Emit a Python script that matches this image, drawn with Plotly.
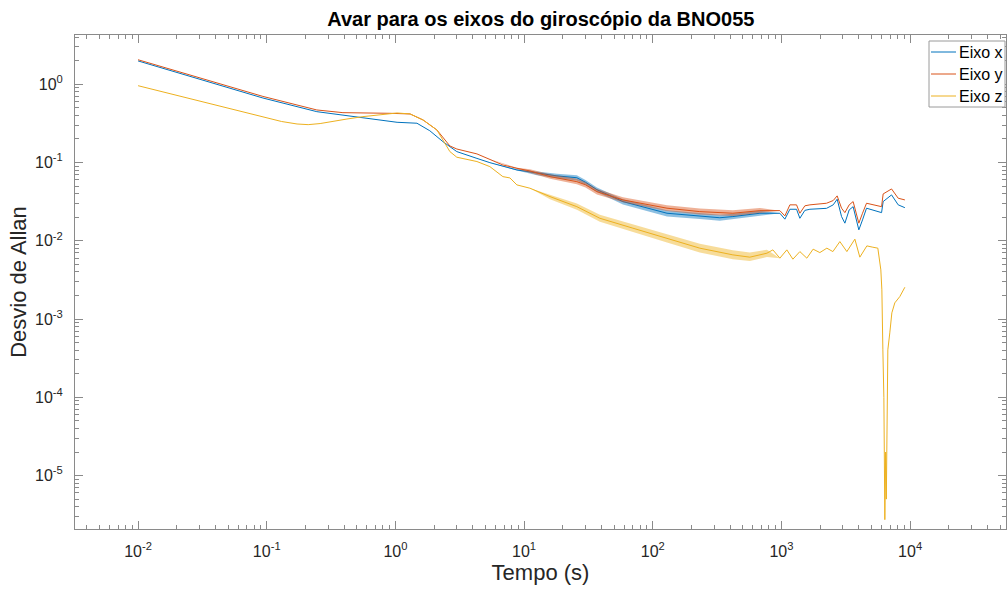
import plotly.graph_objects as go

# Allan deviation of the BNO055 gyroscope axes (tau in seconds)
tau_x = [0.01, 0.0934, 0.245, 0.559, 0.906, 1.03, 1.47, 1.85, 2.34, 3.0, 4.3, 5.42,
         8.79, 12.6, 18.0, 25.7, 30.0, 36.8, 58.6, 129, 232, 332, 419, 680, 813,
         972, 1063, 1163, 1310, 1390, 1521, 1663, 2240, 2524, 2710, 2931, 3111,
         3360, 3606, 3833, 3993, 4266, 4583, 5998, 6170, 7173, 8077, 9100]
dev_x = [1.99, 0.668, 0.447, 0.374, 0.340, 0.327, 0.318, 0.255, 0.185, 0.138, 0.113, 0.0997,
         0.0804, 0.0730, 0.0675, 0.0640, 0.0560, 0.0450, 0.0317, 0.0225, 0.0208, 0.0197, 0.0204, 0.0225, 0.0225,
         0.0225, 0.0189, 0.0253, 0.0253, 0.0194, 0.0245, 0.0253, 0.0260, 0.0288, 0.0340, 0.0204, 0.0168,
         0.0248, 0.0273, 0.0185, 0.0138, 0.0185, 0.0261, 0.0229, 0.0317, 0.0386, 0.0288, 0.0265]

tau_y = [0.01, 0.0934, 0.245, 0.391, 0.906, 1.03, 1.30, 1.64, 2.10, 2.65, 3.0, 4.3,
         5.42, 6.84, 8.79, 11.1, 15.9, 25.7, 30.0, 36.8, 58.6, 129, 232, 419, 680,
         972, 1063, 1163, 1310, 1390, 1521, 1663, 2240, 2524, 2710, 2931, 3111,
         3360, 3606, 3833, 3993, 4266, 4583, 5998, 6170, 7173, 8077, 9100]
dev_y = [2.06, 0.700, 0.470, 0.434, 0.426, 0.426, 0.418, 0.350, 0.261, 0.163, 0.149, 0.129,
         0.110, 0.0931, 0.0845, 0.0781, 0.0661, 0.0570, 0.0520, 0.0425, 0.0333, 0.0261, 0.0236, 0.0225, 0.0243,
         0.0243, 0.0208, 0.0288, 0.0288, 0.0225, 0.0280, 0.0288, 0.0302, 0.0327, 0.0375, 0.0261, 0.0229,
         0.0288, 0.0317, 0.0225, 0.0168, 0.0225, 0.0302, 0.0273, 0.0397, 0.0460, 0.0350, 0.0333]

tau_z = [0.01, 0.0934, 0.13, 0.172, 0.21, 0.26, 0.310, 0.42, 0.559, 0.75, 0.906, 1.03,
         1.30, 1.64, 2.10, 2.65, 3.0, 4.3, 5.42, 6.84, 7.76, 8.79, 11.1, 15.9,
         25.7, 38.8, 70.0, 129, 232, 419, 568, 771, 858, 972, 1101, 1227,
         1390, 1575, 1762, 1987, 2253, 2510, 2844, 3223, 3719, 4066, 4610, 5130,
         5611, 5920, 6030, 6140, 6250, 6360, 6450, 6530, 6590, 6650, 6710, 6950,
         7210, 7600, 8320, 9100]
dev_z = [0.960, 0.386, 0.335, 0.311, 0.305, 0.315, 0.333, 0.360, 0.386, 0.410, 0.426, 0.430,
         0.418, 0.350, 0.261, 0.138, 0.117, 0.103, 0.0887, 0.0661, 0.0636, 0.0518, 0.0470, 0.0367,
         0.0273, 0.0194, 0.0145, 0.0108, 0.00805, 0.00661, 0.00618, 0.00694, 0.00766, 0.00600, 0.00766, 0.00582,
         0.00728, 0.00600, 0.00782, 0.00707, 0.00805, 0.00728, 0.00977, 0.00728, 0.0105, 0.00618, 0.00861, 0.00828,
         0.00805, 0.00425, 0.00236, 0.000404, 0.0001, 2.73e-6, 2.0e-5, 5.0e-6, 3.5e-5, 0.0002, 0.000404, 0.000666,
         0.00120, 0.00161, 0.00194, 0.00255]

# spread of the noisy estimates in the mid range of tau
band_tau_x = [5.42, 8.79, 12.6, 18.0, 25.7, 30.0, 36.8, 58.6, 129, 232, 332, 419, 680, 972]
band_hi_x = [0.0997, 0.082, 0.077, 0.072, 0.069, 0.060, 0.048, 0.034, 0.0245, 0.0228, 0.0215, 0.0222, 0.0242, 0.0225]
band_lo_x = [0.0997, 0.079, 0.069, 0.063, 0.059, 0.052, 0.042, 0.029, 0.0205, 0.0190, 0.0180, 0.0187, 0.0208, 0.0225]

band_tau_y = [5.42, 8.79, 11.1, 15.9, 25.7, 30.0, 36.8, 58.6, 129, 232, 419, 680, 972]
band_hi_y = [0.110, 0.086, 0.082, 0.071, 0.062, 0.056, 0.046, 0.036, 0.0285, 0.0258, 0.0245, 0.0262, 0.0243]
band_lo_y = [0.110, 0.083, 0.075, 0.062, 0.053, 0.048, 0.039, 0.031, 0.0240, 0.0217, 0.0207, 0.0225, 0.0243]

band_tau_z = [11.1, 15.9, 25.7, 38.8, 70.0, 129, 232, 419, 568, 771, 972]
band_hi_z = [0.0470, 0.039, 0.030, 0.0215, 0.0163, 0.0123, 0.0092, 0.0076, 0.0071, 0.0077, 0.0060]
band_lo_z = [0.0470, 0.034, 0.025, 0.0175, 0.0129, 0.0095, 0.0071, 0.0058, 0.0055, 0.0062, 0.0060]

x_exps = [-2, -1, 0, 1, 2, 3, 4]
y_exps = [-5, -4, -3, -2, -1, 0]

FONT = "Arial, Liberation Sans, Helvetica, sans-serif"
AXIS_GRAY = "#8a8a8a"
TEXT = "#262626"

# plot area in pixels (figure is 1008 x 590)
PLOT_L, PLOT_R, PLOT_T, PLOT_B = 75, 1006, 35, 529


def px_x(px):
    return (px - PLOT_L) / (PLOT_R - PLOT_L)


def px_y(py):
    return 1 - (py - PLOT_T) / (PLOT_B - PLOT_T)


def minor_vals(lo, hi):
    return [m * 10.0 ** e for e in range(lo, hi + 1) for m in range(2, 10)]


fig = go.Figure()
series = [
    ("Eixo x", tau_x, dev_x, band_tau_x, band_hi_x, band_lo_x, "#0072BD", "rgba(0,114,189,0.45)"),
    ("Eixo y", tau_y, dev_y, band_tau_y, band_hi_y, band_lo_y, "#D95319", "rgba(217,83,25,0.45)"),
    ("Eixo z", tau_z, dev_z, band_tau_z, band_hi_z, band_lo_z, "#EDB120", "rgba(237,177,32,0.45)"),
]
for name, t, d, bt, bhi, blo, color, fill in series:
    fig.add_trace(go.Scatter(x=bt + bt[::-1], y=bhi + blo[::-1], mode="lines",
                             fill="toself", fillcolor=fill, line=dict(width=0),
                             hoverinfo="skip", showlegend=False))
    fig.add_trace(go.Scatter(x=t, y=d, mode="lines", name=name,
                             line=dict(color=color, width=1), showlegend=False))

axis_common = dict(
    type="log", showgrid=False, zeroline=False,
    showline=True, linecolor=AXIS_GRAY, linewidth=1, mirror="allticks",
    ticks="inside", ticklen=8, tickcolor=AXIS_GRAY, tickwidth=1,
    tickfont=dict(family=FONT, size=16, color=TEXT),
    tickmode="array",
)

fig.update_xaxes(
    **axis_common,
    range=[-2.49, 4.745],
    tickvals=[10.0 ** e for e in x_exps],
    ticktext=[f"10<sup>{e}</sup>" for e in x_exps],
    ticklabelstandoff=8,
    minor=dict(ticks="inside", ticklen=4, tickcolor=AXIS_GRAY, tickwidth=1,
               tickmode="array", tickvals=minor_vals(-3, 4)),
    title=dict(text="Tempo (s)", font=dict(family=FONT, size=22, color=TEXT), standoff=2),
)
fig.update_yaxes(
    **axis_common,
    range=[-5.683, 0.63],
    tickvals=[10.0 ** e for e in y_exps],
    ticktext=[f"10<sup>{e}</sup>" for e in y_exps],
    ticklabelstandoff=8,
    minor=dict(ticks="inside", ticklen=4, tickcolor=AXIS_GRAY, tickwidth=1,
               tickmode="array", tickvals=minor_vals(-6, 0)),
    title=dict(text="Desvio de Allan", font=dict(family=FONT, size=22, color=TEXT), standoff=2),
)

# legend box in the upper right corner
shapes = [dict(type="rect", xref="paper", yref="paper",
               x0=px_x(929), x1=px_x(1005), y0=px_y(107), y1=px_y(41),
               line=dict(color="#9a9a9a", width=1), fillcolor="white", layer="above")]
annotations = []
for i, entry in enumerate(series):
    name, color = entry[0], entry[6]
    yy = px_y(52 + 22 * i)
    shapes.append(dict(type="line", xref="paper", yref="paper",
                       x0=px_x(931), x1=px_x(956), y0=yy, y1=yy,
                       line=dict(color=color, width=1), layer="above"))
    annotations.append(dict(xref="paper", yref="paper", x=px_x(957), y=yy,
                            xanchor="left", yanchor="middle", showarrow=False,
                            text=name, font=dict(family=FONT, size=16, color="black")))

fig.update_layout(
    width=1008, height=590,
    margin=dict(l=PLOT_L, r=1008 - PLOT_R, t=PLOT_T, b=590 - PLOT_B),
    paper_bgcolor="white", plot_bgcolor="white",
    title=dict(text="<b>Avar para os eixos do giroscópio da BNO055</b>",
               x=0.5365, xanchor="center", y=0.968, yanchor="middle",
               font=dict(family=FONT, size=20, color="black")),
    shapes=shapes, annotations=annotations,
    showlegend=False,
)

fig.write_html("out.html")
